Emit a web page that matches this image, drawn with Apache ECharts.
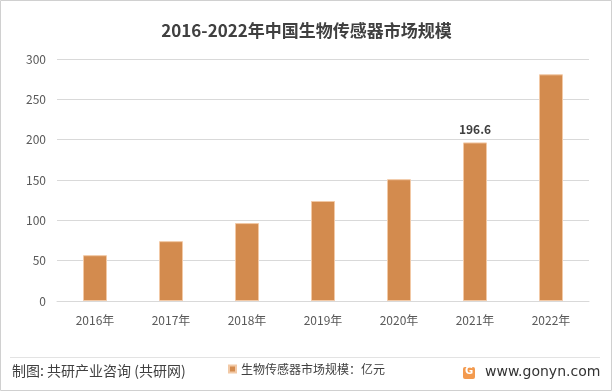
<!DOCTYPE html>
<html><head><meta charset="utf-8">
<script src="https://cdn.jsdelivr.net/npm/echarts@6/dist/echarts.min.js"></script>
<style>html,body{margin:0;padding:0;background:#fff}#c{width:613px;height:392px}</style>
</head><body><div id="c"></div>
<script>
var categories = ['2016年','2017年','2018年','2019年','2020年','2021年','2022年'];
var values = [56.8, 74.2, 96.6, 124, 151, 196.6, 281];
var yTicks = [0, 50, 100, 150, 200, 250, 300];
var labeledIndex = 5;
var seriesName = '生物传感器市场规模：亿元';
var titleText = '2016-2022年中国生物传感器市场规模';
var sourceText = '制图: 共研产业咨询 (共研网)';
var siteText = 'www.gonyn.com';

var font = '"Noto Sans CJK SC","Microsoft YaHei",sans-serif';
var chart = echarts.init(document.getElementById('c'));
chart.setOption({
  animation: false,
  textStyle: {fontFamily: font},
  title: {text: titleText, left: 'center', top: 17,
    textStyle: {fontSize: 17, fontWeight: 'bold', color: '#404040', fontFamily: font}},
  grid: {left: 57, right: 24, top: 59, bottom: 91},
  legend: {data: [seriesName], left: 'center', top: 358, itemWidth: 7, itemHeight: 7, itemGap: 4,
    icon: 'rect', textStyle: {fontSize: 12, color: '#404040', fontFamily: font}},
  xAxis: {type: 'category', data: categories,
    axisLine: {lineStyle: {color: '#d9d9d9'}}, axisTick: {show: false},
    axisLabel: {color: '#595959', fontSize: 12, margin: 13, fontFamily: font}},
  yAxis: {type: 'value', min: yTicks[0], max: yTicks[yTicks.length-1], interval: 50,
    axisLine: {show: false}, axisTick: {show: false},
    splitLine: {lineStyle: {color: '#d9d9d9'}},
    axisLabel: {color: '#595959', fontSize: 12, margin: 11, fontFamily: font}},
  series: [{name: seriesName, type: 'bar', barWidth: 24,
    itemStyle: {color: '#D38B4E', borderColor: '#F2C9A6', borderWidth: 1},
    data: values.map(function(v, i){
      return i === labeledIndex ? {value: v, label: {show: true, position: 'top', distance: 7,
        color: '#404040', fontSize: 12, fontWeight: 'bold', fontFamily: font}} : v;
    })}],
  graphic: [
    {type: 'rect', shape: {x: 0.5, y: 0.5, width: 611, height: 390}, style: {fill: 'none', stroke: '#d0d0d0', lineWidth: 1}, silent: true},
    {type: 'line', shape: {x1: 10, y1: 357.5, x2: 600, y2: 357.5}, style: {stroke: '#e3e3e3', lineWidth: 1}},
    {type: 'text', left: 12, top: 364, style: {text: sourceText, fontSize: 14, fill: '#404040', fontFamily: font}},
    {type: 'rect', shape: {x: 463, y: 367, width: 12, height: 12, r: 2}, style: {fill: '#F39A4E'}},
    {type: 'text', left: 465, top: 366, style: {text: 'G', fontSize: 10, fontWeight: 'bold', fill: '#fff', fontFamily: 'DejaVu Sans'}},
    {type: 'text', left: 485, top: 365, style: {text: siteText, fontSize: 14, fill: '#333', fontFamily: '"DejaVu Sans",sans-serif'}}
  ]
});
</script></body></html>
